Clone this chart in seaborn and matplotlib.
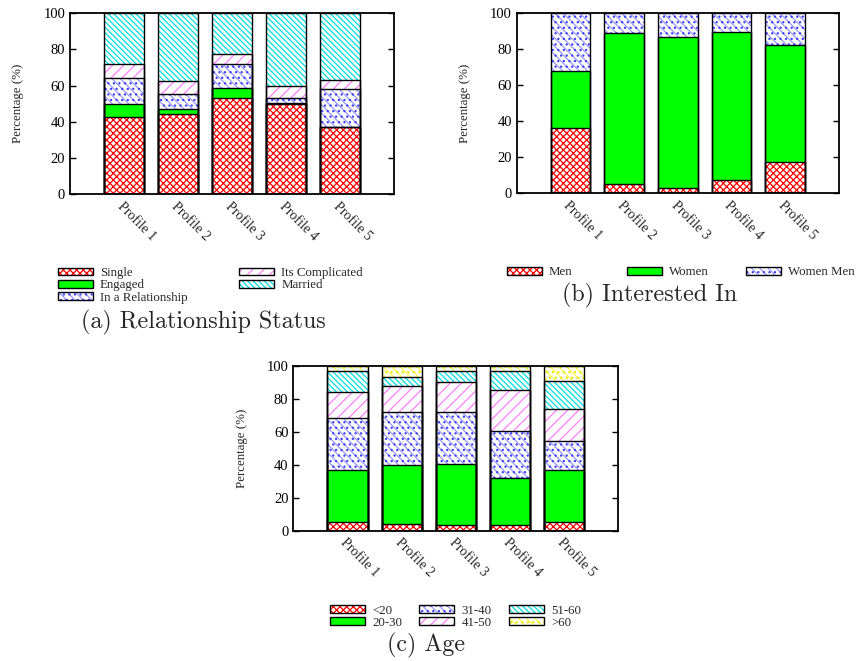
import numpy as np
import matplotlib
matplotlib.use("Agg")
import matplotlib.pyplot as plt
from matplotlib.patches import Patch
from matplotlib.legend_handler import HandlerTuple
import seaborn as sns

# ---------------------------------------------------------------- data
profiles = ["Profile 1", "Profile 2", "Profile 3", "Profile 4", "Profile 5"]

# (a) relationship status, % of each profile
status_labels = ["Single", "Engaged", "In a Relationship", "Its Complicated", "Married"]
single = [42.8, 44.4, 53.0, 49.6, 36.9]
engaged = [7.2, 2.8, 5.5, 0.6, 0.0]
in_relationship = [14.4, 8.3, 13.3, 3.1, 21.0]
complicated = [7.4, 7.0, 5.5, 6.6, 5.2]
married = [28.2, 37.5, 22.7, 40.1, 36.9]

# (b) interested in
interest_labels = ["Men", "Women", "Women Men"]
men = [36.3, 5.2, 3.1, 7.6, 17.6]
women = [31.8, 83.7, 83.7, 82.2, 64.6]
women_men = [31.9, 11.1, 13.2, 10.2, 17.8]

# (c) age groups
age_labels = ["<20", "20-30", "31-40", "41-50", "51-60", ">60"]
age_lt20 = [5.1, 3.8, 3.4, 3.4, 5.5]
age_20_30 = [31.5, 36.1, 36.9, 28.4, 31.3]
age_31_40 = [31.6, 32.4, 31.8, 28.5, 17.5]
age_41_50 = [15.8, 15.8, 18.4, 25.1, 19.8]
age_51_60 = [13.0, 5.0, 6.7, 11.4, 17.0]
age_gt60 = [3.0, 6.9, 2.8, 3.2, 8.9]

# ---------------------------------------------------------------- styles
# each fill style: face colour plus a list of (hatch, hatch colour) layers
RED = ("white", [("xxxxx", "#ff0000")])
GREEN = ("#00ff00", [])
BLUE = ("white", [("\\\\\\\\", "#9a9aff"), ("...", "#4040ff")])
PINK = ("white", [("///", "#ff80ff")])
CYAN = ("white", [("\\\\\\\\\\\\", "#00dede")])
YELLOW = ("white", [("\\\\\\\\", "#ffff50"), ("...", "#e8e800")])

BAR_W = 0.74

sns.set_theme(style="ticks")
plt.rcParams["font.family"] = ["Liberation Serif", "DejaVu Serif"]
plt.rcParams["hatch.linewidth"] = 0.9
plt.rcParams["axes.edgecolor"] = "black"

W, H = 858, 661
fig = plt.figure(figsize=(W / 100, H / 100), dpi=100)


def px_axes(left, top, right, bottom):
    return fig.add_axes([left / W, 1 - bottom / H, (right - left) / W, (bottom - top) / H])


def draw_stack(ax, segments, styles):
    tops = np.cumsum(np.array(segments, dtype=float), axis=0)
    for k in range(len(segments) - 1, -1, -1):
        face, layers = styles[k]
        if not layers:
            sns.barplot(x=profiles, y=tops[k], facecolor=face, edgecolor=face,
                        linewidth=0, width=BAR_W, errorbar=None, ax=ax)
        for i, (hatch, hcol) in enumerate(layers):
            sns.barplot(x=profiles, y=tops[k], facecolor=face if i == 0 else "none",
                        edgecolor=hcol, hatch=hatch, linewidth=0, width=BAR_W,
                        errorbar=None, ax=ax)
    for k in range(len(segments)):
        sns.barplot(x=profiles, y=tops[k], facecolor="none", edgecolor="black",
                    linewidth=1.0, width=BAR_W, errorbar=None, ax=ax)


def style_axes(ax, label_x_px, left_px, width_px):
    ax.set_xlim(-1, 5)
    ax.set_ylim(0, 100)
    ax.set_yticks(range(0, 101, 20))
    ax.tick_params(axis="y", direction="in", left=True, right=True, length=4,
                   width=1, labelsize=10.5, pad=3.5, colors="black")
    ax.tick_params(axis="x", length=0, pad=4)
    ax.set_xticks(range(len(profiles)))
    ax.set_xticklabels(profiles, rotation=-45, ha="left", va="top",
                       rotation_mode="anchor", fontsize=10)
    ax.set_xlabel("")
    ax.set_ylabel("Percentage (%)", fontsize=9.3, rotation=90)
    ax.yaxis.label.set(rotation_mode="default", va="center", ha="center")
    ax.yaxis.set_label_coords((label_x_px - left_px) / width_px, 0.5)
    for sp in ax.spines.values():
        sp.set_visible(True)
        sp.set_linewidth(1.3)
        sp.set_color("black")


def legend_handle(style):
    face, layers = style
    parts = []
    if not layers:
        parts.append(Patch(facecolor=face, edgecolor=face, linewidth=0))
    for i, (hatch, hcol) in enumerate(layers):
        parts.append(Patch(facecolor=face if i == 0 else "none", edgecolor=hcol,
                           hatch=hatch, linewidth=0))
    parts.append(Patch(facecolor="none", edgecolor="black", linewidth=1.0))
    return tuple(parts)


def add_legend(handles, labels, x_px, y_px, ncol, colspace=4.0):
    return fig.legend(handles=handles, labels=labels, loc="upper left",
                      bbox_to_anchor=(x_px / W, 1 - y_px / H), ncol=ncol,
                      frameon=False, fontsize=9.3, handlelength=2.7,
                      handleheight=0.55, handletextpad=0.55, labelspacing=0.03,
                      borderpad=0, borderaxespad=0, columnspacing=colspace,
                      handler_map={tuple: HandlerTuple(ndivide=1, pad=0)})


CAPTION = dict(family="cmr10", fontsize=17.3, ha="center", va="center")

# ---------------------------------------------------------------- (a)
ax_a = px_axes(70, 13.3, 394.3, 194)
status_styles = [RED, GREEN, BLUE, PINK, CYAN]
draw_stack(ax_a, [single, engaged, in_relationship, complicated, married], status_styles)
style_axes(ax_a, 18, 70, 324.3)
add_legend([legend_handle(s) for s in status_styles], status_labels, 58, 267, 2, 4.0)
fig.text(203 / W, 1 - 322 / H, "(a) Relationship Status", **CAPTION)

# ---------------------------------------------------------------- (b)
ax_b = px_axes(516.7, 13.3, 839, 193.3)
interest_styles = [RED, GREEN, BLUE]
draw_stack(ax_b, [men, women, women_men], interest_styles)
style_axes(ax_b, 465, 516.7, 322.3)
for lab, sty, xh in zip(interest_labels, interest_styles, [506.7, 626.7, 745.7]):
    add_legend([legend_handle(sty)], [lab], xh, 266.5, 1)
fig.text(650 / W, 1 - 295 / H, "(b) Interested In", **CAPTION)

# ---------------------------------------------------------------- (c)
ax_c = px_axes(293.3, 366, 618.3, 530.7)
age_styles = [RED, GREEN, BLUE, PINK, CYAN, YELLOW]
draw_stack(ax_c, [age_lt20, age_20_30, age_31_40, age_41_50, age_51_60, age_gt60], age_styles)
style_axes(ax_c, 241.7, 293.3, 325)
add_legend([legend_handle(s) for s in age_styles], age_labels, 330, 604.5, 3, 1.35)
fig.text(426 / W, 1 - 645 / H, "(c) Age", **CAPTION)

fig.savefig("out.png", dpi=100)
